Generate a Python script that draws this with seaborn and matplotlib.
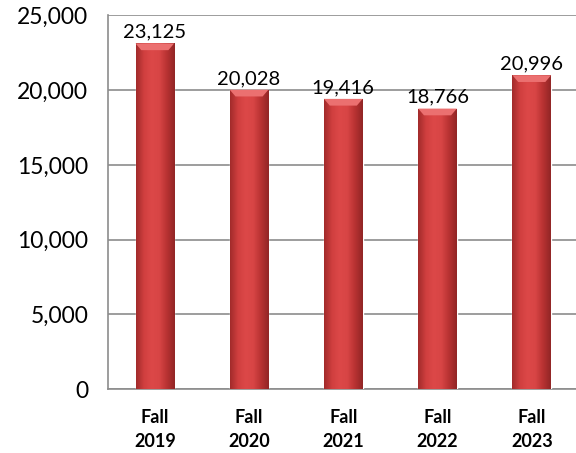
import numpy as np
import pandas as pd
import matplotlib
matplotlib.use("Agg")
import matplotlib.pyplot as plt
import seaborn as sns
from matplotlib.ticker import FuncFormatter, MultipleLocator
from matplotlib.colors import LinearSegmentedColormap

categories = ["Fall\n2019", "Fall\n2020", "Fall\n2021", "Fall\n2022", "Fall\n2023"]
values = [23125, 20028, 19416, 18766, 20996]

sns.set_theme(style="white")
plt.rcParams['font.family'] = ['Lato', 'DejaVu Sans']

df = pd.DataFrame({"term": categories, "count": values})

fig = plt.figure(figsize=(5.76, 4.53), dpi=100)
ax = fig.add_axes([0.187, 0.141, 0.818, 0.825])

sns.barplot(data=df, x="term", y="count", color="#CC3B3B", width=0.41,
            saturation=1, ax=ax, zorder=3)

cmap = LinearSegmentedColormap.from_list(
    "bev", ["#A22B2B", "#D03F3F", "#DC4848", "#D84545", "#B83232", "#922626"])
grad = np.linspace(0, 1, 64).reshape(1, -1)
for p in ax.patches:
    x0, y0 = p.get_x(), p.get_y()
    w, h = p.get_width(), p.get_height()
    im = ax.imshow(grad, cmap=cmap, aspect="auto",
                   extent=[x0, x0 + w, y0, y0 + h], zorder=3.5)
    im.set_clip_path(p)
    ax.fill([x0, x0 + w, x0 + w * 0.85, x0 + w * 0.15],
            [y0 + h, y0 + h, y0 + h - 450, y0 + h - 450],
            color="#EB7070", zorder=4, lw=0)
    ax.annotate(f"{int(h):,}", (x0 + w / 2, h), xytext=(0, 2),
                textcoords="offset points", ha="center", va="bottom",
                fontsize=14.5, color="black")

ax.set_xlim(-0.5, 4.5)
ax.set_ylim(0, 25000)
ax.yaxis.set_major_locator(MultipleLocator(5000))
ax.yaxis.set_major_formatter(FuncFormatter(lambda v, _: f"{int(v):,}"))
ax.grid(axis="y", color="#8C8C8C", lw=1.2, zorder=0)
ax.set_axisbelow(True)
for s in ["top", "right"]:
    ax.spines[s].set_visible(False)
for s in ["left", "bottom"]:
    ax.spines[s].set_color("#8C8C8C")
    ax.spines[s].set_linewidth(1.2)
ax.tick_params(axis="y", length=9, color="#8C8C8C", width=1.2, labelsize=16.5,
               pad=5, labelcolor="black")
ax.tick_params(axis="x", length=0, labelsize=13, pad=14, labelcolor="black")
for t in ax.get_xticklabels():
    t.set_fontweight("bold")
    t.set_linespacing(1.55)
ax.set_xlabel("")
ax.set_ylabel("")

fig.savefig("out.png", dpi=100)
